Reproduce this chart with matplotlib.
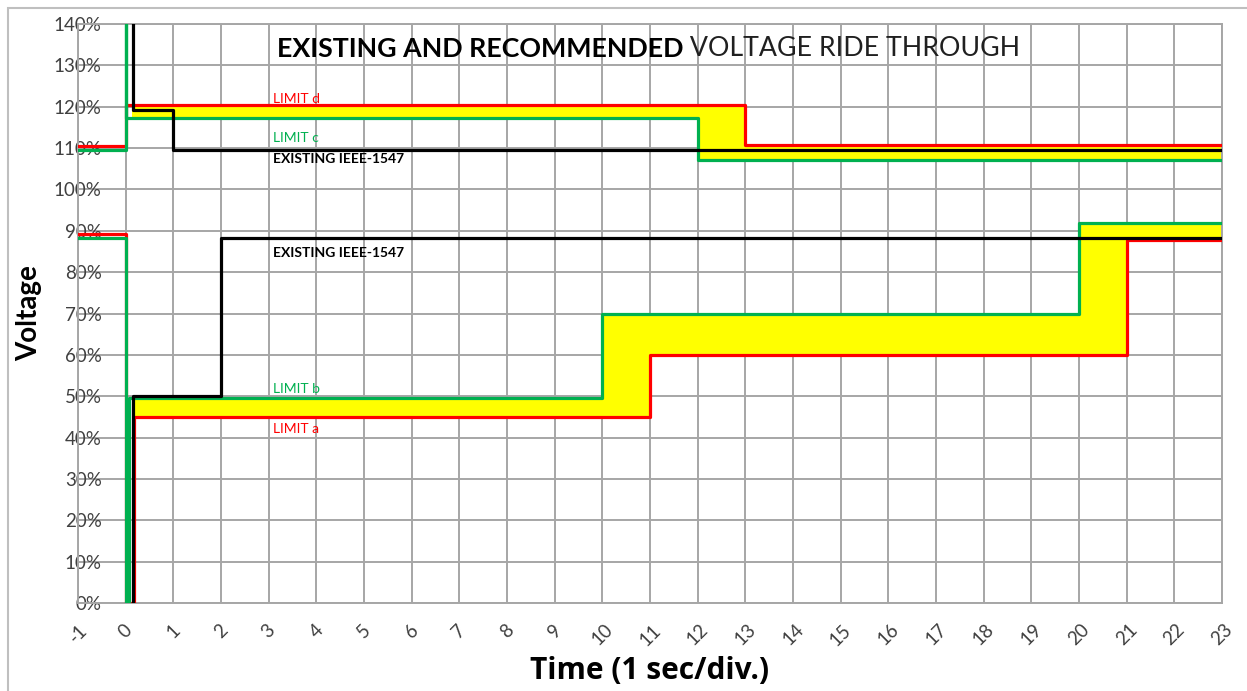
import numpy as np
import matplotlib
matplotlib.use('Agg')
import matplotlib.pyplot as plt
from matplotlib.patches import Rectangle

plt.rcParams['font.family'] = ['Lato', 'DejaVu Sans']

# step curves (time in s, voltage in %)
limit_d_x = [-1, 0, 0, 0.15, 13, 13, 23]
limit_d_y = [110.5, 110.5, 120.5, 120.5, 120.5, 110.7, 110.7]
limit_c_x = [-1, 0, 0, 0, 12, 12, 23]
limit_c_y = [109.5, 109.5, 140, 117.3, 117.3, 107.0, 107.0]
exist_hi_x = [0.15, 0.15, 1, 1, 23]
exist_hi_y = [140, 119.2, 119.2, 109.5, 109.5]

limit_a_x = [-1, 0, 0, 0.18, 0.18, 11, 11, 21, 21, 23]
limit_a_y = [89.3, 89.3, 0, 0, 45, 45, 60, 60, 87.8, 87.8]
limit_b_x = [-1, 0, 0, 0.08, 0.08, 10, 10, 20, 20, 23]
limit_b_y = [88.2, 88.2, 0, 0, 49.5, 49.5, 70, 70, 92, 92]
exist_lo_x = [0.15, 0.15, 2, 2, 23]
exist_lo_y = [0, 50, 50, 88.3, 88.3]

# yellow bands (step='post')
band_hi_x = [0.13, 12, 13, 23]
band_hi_lo = [117.3, 107.0, 107.0, 107.0]
band_hi_up = [120.5, 120.5, 110.7, 110.7]
band_lo_x = [0.17, 10, 11, 20, 21, 23]
band_lo_lo = [45, 45, 60, 60, 87.8, 87.8]
band_lo_up = [49.5, 70, 70, 92, 92, 92]

xticks = list(range(-1, 24))
yticks = list(range(0, 141, 10))

labels = [('LIMIT d', 121.0, 'red'),
          ('LIMIT c', 111.4, '#00B050'),
          ('EXISTING IEEE-1547', 106.3, 'black'),
          ('EXISTING IEEE-1547', 83.6, 'black'),
          ('LIMIT b', 50.7, '#00B050'),
          ('LIMIT a', 41.1, 'red')]

red = '#FF0000'
green = '#00B050'
gridc = '#A6A6A6'

fig = plt.figure(figsize=(12.47, 6.91), dpi=100)
ax = fig.add_axes([78/1247, 88/691, (1222-78)/1247, (603-24)/691])

ax.fill_between(band_hi_x, band_hi_lo, band_hi_up, step='post', color='#FFFF00', lw=0, zorder=2)
ax.fill_between(band_lo_x, band_lo_lo, band_lo_up, step='post', color='#FFFF00', lw=0, zorder=2)

ax.plot(limit_d_x, limit_d_y, color=red, lw=2.3, zorder=3)
ax.plot(limit_a_x, limit_a_y, color=red, lw=2.3, zorder=3)
ax.plot(limit_c_x, limit_c_y, color=green, lw=2.3, zorder=4)
ax.plot(limit_b_x, limit_b_y, color=green, lw=2.3, zorder=4)
ax.plot(exist_hi_x, exist_hi_y, color='black', lw=2.3, zorder=5)
ax.plot(exist_lo_x, exist_lo_y, color='black', lw=2.3, zorder=5)

for txt, yv, c in labels:
    w = 'bold' if txt.startswith('EXIST') else 'normal'
    ax.text(3.1, yv, txt, color=c, fontsize=10, fontweight=w, va='baseline', ha='left', zorder=6)

t1 = ax.text(3.17, 131.9, 'EXISTING AND RECOMMENDED', fontsize=19.3, fontweight='bold',
             va='baseline', ha='left', zorder=6)
ax.annotate(' VOLTAGE RIDE THROUGH', xy=(1, 0), xycoords=t1, fontsize=19.3,
            va='bottom', ha='left', color='#202020', zorder=6)

ax.set_xlim(-1, 23)
ax.set_ylim(0, 140)
ax.set_xticks(xticks)
ax.set_yticks(yticks)
ax.set_yticklabels(['%d%%' % v for v in yticks])
ax.set_xticklabels([str(v) for v in xticks], rotation=45, ha='center', va='top')
ax.tick_params(axis='y', length=0, pad=-17, labelsize=13.5, labelcolor='#404040')
ax.tick_params(axis='x', length=0, pad=13, labelsize=13.5, labelcolor='#404040')
ax.grid(True, color=gridc, lw=1.4, zorder=0)
ax.set_axisbelow(True)
for s in ax.spines.values():
    s.set_color(gridc)
    s.set_linewidth(1.4)

ax.set_xlabel('Time (1 sec/div.)', fontsize=21.5, fontweight='bold', family=['Open Sans', 'DejaVu Sans'],
              labelpad=5)
ax.set_ylabel('Voltage', fontsize=20, fontweight='bold', labelpad=8)

fig.patches.append(Rectangle((8/1247, -0.1), 2, 1.1 - 8/691, transform=fig.transFigure,
                             fill=False, edgecolor='#BFBFBF', lw=1.5))

plt.savefig('out.png', dpi=100)
